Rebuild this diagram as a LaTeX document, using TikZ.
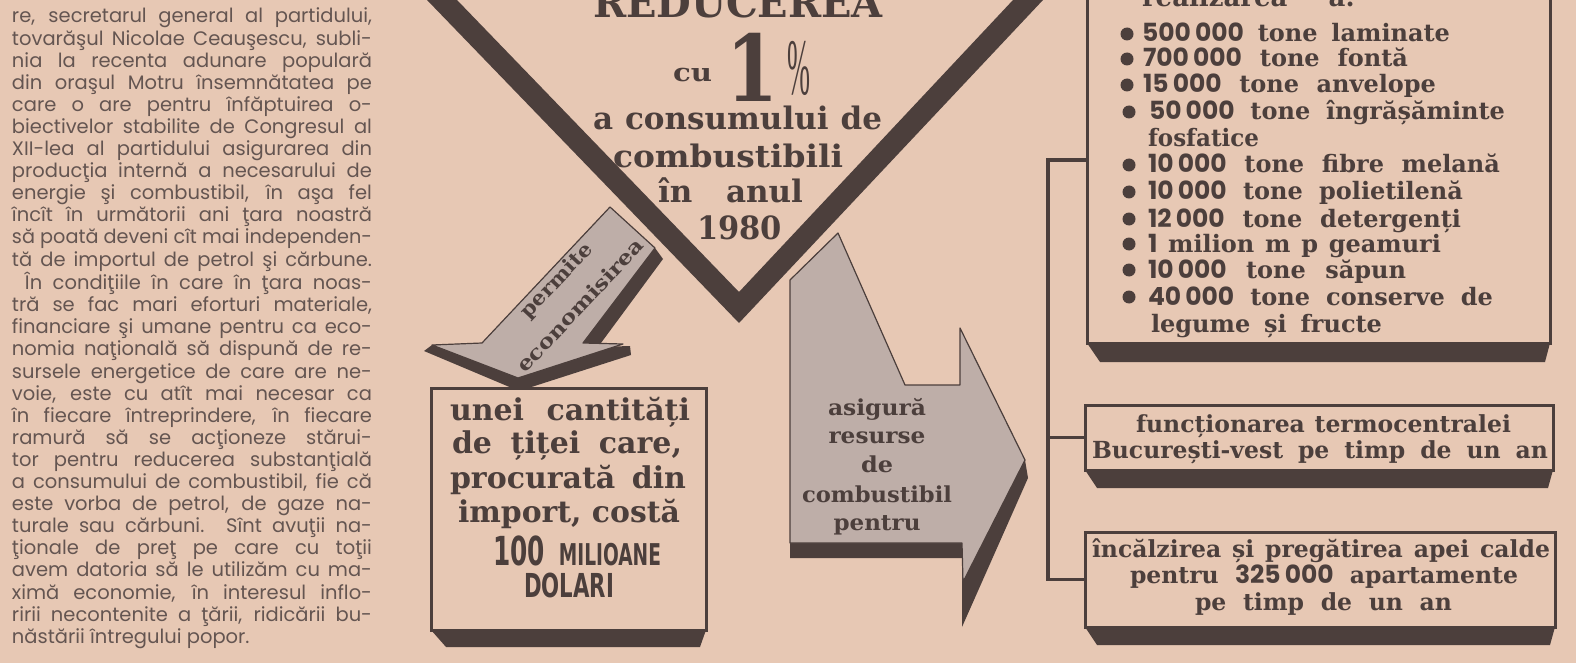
\documentclass[tikz,border=0pt]{standalone}
\usepackage{fontspec}
\usepackage{graphicx}
\setmainfont{DejaVu Serif}
\newfontfamily\colf{Poppins}
\newfontfamily\numf{Poppins}
\newfontfamily\condf{DejaVu Sans}[FakeStretch=0.62]
\newfontfamily\pctf{Liberation Serif}
\usetikzlibrary{calc}
\definecolor{paper}{RGB}{231,200,180}
\definecolor{ink}{RGB}{76,63,60}
\definecolor{colink}{RGB}{100,85,81}
\definecolor{screen}{RGB}{190,174,168}
\newsavebox\fitbox
\newdimen\fitdim
\newcommand\fsz[1]{\fontsize{#1}{#1}\selectfont}
\newcommand\fitx[2]{\sbox\fitbox{#2}\fitdim=\wd\fitbox\pgfmathsetmacro\fitf{#1/\fitdim}\scalebox{\fitf}[1]{\usebox\fitbox}}
\newcommand\fitj[2]{\sbox\fitbox{#2}\ifdim\wd\fitbox>#1pt\relax\fitdim=\wd\fitbox\pgfmathsetmacro\fitf{#1/\fitdim}\scalebox{\fitf}[1]{\usebox\fitbox}\else\makebox[#1pt][s]{#2}\fi}
\newcommand\jl[1]{\fitj{360}{#1}}
\newcommand\nm[1]{{\numf\fsz{25}#1}}
\begin{document}
\begin{tikzpicture}[x=1pt,y=-1pt,
  txt/.style={inner sep=0pt, outer sep=0pt, text=ink, anchor=base west},
  ctxt/.style={txt, anchor=base},
  boxst/.style={draw=ink, line width=3pt, fill=paper, inner sep=0pt, outer sep=0pt},
  conn/.style={draw=ink, line width=3.5pt, line join=miter},
  scr/.style={fill=screen, draw=ink, line width=1.2pt, line join=round}]
\useasboundingbox (0,0) rectangle (1576,663);
\clip (0,0) rectangle (1576,663);
\fill[paper] (0,0) rectangle (1576,663);

% left column text
\node[txt, text=colink] (col) at (12,23) {\parbox[t]{360pt}{\colf\fontsize{19.5}{22.1}\selectfont
\jl{re, secretarul general al partidului,}\\
\jl{tovarăşul Nicolae Ceauşescu, subli-}\\
\jl{nia la recenta adunare populară}\\
\jl{din oraşul Motru însemnătatea pe}\\
\jl{care o are pentru înfăptuirea o-}\\
\jl{biectivelor stabilite de Congresul al}\\
\jl{XII-lea al partidului asigurarea din}\\
\jl{producţia internă a necesarului de}\\
\jl{energie şi combustibil, în aşa fel}\\
\jl{încît în următorii ani ţara noastră}\\
\jl{să poată deveni cît mai independen-}\\
\jl{tă de importul de petrol şi cărbune.}\\
\jl{\hspace*{13pt}În condiţiile în care în ţara noas-}\\
\jl{tră se fac mari eforturi materiale,}\\
\jl{financiare şi umane pentru ca eco-}\\
\jl{nomia naţională să dispună de re-}\\
\jl{sursele energetice de care are ne-}\\
\jl{voie, este cu atît mai necesar ca}\\
\jl{în fiecare întreprindere, în fiecare}\\
\jl{ramură să se acţioneze stărui-}\\
\jl{tor pentru reducerea substanţială}\\
\jl{a consumului de combustibil, fie că}\\
\jl{este vorba de petrol, de gaze na-}\\
\jl{turale sau cărbuni. Sînt avuţii na-}\\
\jl{ţionale de preţ pe care cu toţii}\\
\jl{avem datoria să le utilizăm cu ma-}\\
\jl{ximă economie, în interesul inflo-}\\
\jl{ririi necontenite a ţării, ridicării bu-}\\
\mbox{năstării întregului popor.}}};

% the V mark
\fill[ink] (427,0) -- (739,323) -- (1043,0) -- (1013,0) -- (739,292) -- (457,0) -- cycle;

% left arrow
\fill[ink] (610,207) -- (655,248) -- (663,259) -- (598,347) -- (630,346) -- (631,355) -- (519,391) -- (424,351) -- (432,345) -- (482,343) -- cycle;
\path[scr] (610,207) -- (655,248) -- (583,343) -- (623,344) -- (518,378) -- (432,345) -- (482,343) -- cycle;

% right arrow
\fill[ink] (790,280) -- (838,233) -- (905,385) -- (960,385) -- (960,328) -- (1025,460) -- (1028,478) -- (962,627) -- (962,558) -- (790,558) -- cycle;
\path[scr] (790,280) -- (838,233) -- (905,385) -- (960,385) -- (960,328) -- (1025,460) -- (963,582) -- (962,543) -- (790,543) -- cycle;

% boxes
\node[boxst, minimum width=463pt, minimum height=366pt] (b1) at (1318.5,160) {};
\node[boxst, minimum width=468pt, minimum height=65pt] (b2) at (1319,437.5) {};
\node[boxst, minimum width=470pt, minimum height=95pt] (b3) at (1320,579.5) {};
\node[boxst, minimum width=275pt, minimum height=242pt] (b4) at (568.5,509) {};
\foreach \b/\l/\r/\h in {b1/13/-5/19, b2/12/-5/18, b3/12/-5/18, b4/15/-6/17}{
  \fill[ink] (\b.south west) -- (\b.south east) -- ($(\b.south east)+(\r,\h)$) -- ($(\b.south west)+(\l,\h)$) -- cycle;
}

% connectors
\coordinate (bus) at (1048,0);
\draw[conn] (b1.west) -- (b1.west -| bus) -- (b3.west -| bus) -- (b3.west);
\draw[conn] (b2.west) -- (b2.west -| bus);

% centre texts
\node[ctxt] (tred) at (738,18) {\fitx{290}{\bfseries\fsz{41}REDUCEREA}};
\node[txt] (tcu) at (673,82) {\fitx{39}{\bfseries\fsz{25}cu}};
\node[txt] (tone) at (726,102) {\fitx{52}{\bfseries\fsz{92}1}};
\node[txt] (tpct) at (787,95) {\fitx{23}{\pctf\fsz{80}\%}};
\node[txt] (tcons) at (593,130) {\fitj{289}{\bfseries\fsz{31}a consumului de}};
\node[txt] (tcomb) at (613,168) {\fitx{230}{\bfseries\fsz{31}combustibili}};
\node[txt] (tin) at (658,203) {\fitj{145}{\bfseries\fsz{31}în anul}};
\node[txt] (tyear) at (697,240) {\fitx{85}{\bfseries\fsz{32}1980}};

% left arrow texts
\node[txt, anchor=center, rotate=46.8] (tperm) at (557,281) {\fitx{95}{\bfseries\fsz{20}permite}};
\node[txt, anchor=center, rotate=46.8] (tecon) at (580,305) {\fitx{175}{\bfseries\fsz{20}economisirea}};

% right arrow texts
\node[ctxt] (ta1) at (877,415) {\fitx{98}{\bfseries\fsz{22}asigură}};
\node[ctxt] (ta2) at (877,443) {\fitx{97}{\bfseries\fsz{22}resurse}};
\node[ctxt] (ta3) at (877,472) {\fitx{32}{\bfseries\fsz{22}de}};
\node[ctxt] (ta4) at (877,502) {\fitx{150}{\bfseries\fsz{22}combustibil}};
\node[ctxt] (ta5) at (877,530) {\fitx{87}{\bfseries\fsz{22}pentru}};

% box 4 texts
\node[txt] (u1) at (450,420) {\fitj{240}{\bfseries\fsz{30}unei cantități}};
\node[txt] (u2) at (452,453) {\fitj{230}{\bfseries\fsz{30}de țiței care,}};
\node[txt] (u3) at (450,488) {\fitj{236}{\bfseries\fsz{30}procurată din}};
\node[txt] (u4) at (458,522) {\fitj{222}{\bfseries\fsz{30}import, costă}};
\node[txt] (u5) at (493,565) {\fitj{168}{\condf\bfseries{\fsz{40}100} {\fsz{30}MILIOANE}}};
\node[txt] (u6) at (524,597) {\fitx{90}{\condf\bfseries\fsz{33}DOLARI}};

% box 1 texts
\node[txt] (r0) at (1142,7) {\fitj{213}{\bfseries\fsz{26}realizarea a:}};
\foreach \x/\y in {1127/34,1127/59,1127/85,1129/112,1129/165,1129/192,1129/219,1129/244,1129/270,1129/297}{
  \fill[ink] (\x,\y) circle (6.5);
}
\node[txt] (r1) at (1142,42) {\fitj{308}{\bfseries\fsz{24}\nm{500\,000} tone laminate}};
\node[txt] (r2) at (1143,67) {\fitj{265}{\bfseries\fsz{24}\nm{700\,000} tone fontă}};
\node[txt] (r3) at (1143,93) {\fitj{293}{\bfseries\fsz{24}\nm{15\,000} tone anvelope}};
\node[txt] (r4) at (1149,120) {\fitj{356}{\bfseries\fsz{24}\nm{50\,000} tone îngrășăminte}};
\node[txt] (r5) at (1148,147) {\fitx{111}{\bfseries\fsz{24}fosfatice}};
\node[txt] (r6) at (1148,173) {\fitj{352}{\bfseries\fsz{24}\nm{10\,000} tone fibre melană}};
\node[txt] (r7) at (1148,200) {\fitj{315}{\bfseries\fsz{24}\nm{10\,000} tone polietilenă}};
\node[txt] (r8) at (1148,227) {\fitj{313}{\bfseries\fsz{24}\nm{12\,000} tone detergenți}};
\node[txt] (r9) at (1148,252) {\fitj{293}{\bfseries\fsz{24}\nm{1} milion m p geamuri}};
\node[txt] (r10) at (1148,278) {\fitj{258}{\bfseries\fsz{24}\nm{10\,000} tone săpun}};
\node[txt] (r11) at (1148,305) {\fitj{345}{\bfseries\fsz{24}\nm{40\,000} tone conserve de}};
\node[txt] (r12) at (1151,332) {\fitj{231}{\bfseries\fsz{24}legume și fructe}};

% box 2 texts
\node[txt] (s1) at (1136,432) {\fitj{375}{\bfseries\fsz{23.5}funcționarea termocentralei}};
\node[txt] (s2) at (1092,458) {\fitj{456}{\bfseries\fsz{23.5}București-vest pe timp de un an}};

% box 3 texts
\node[txt] (v1) at (1092,557) {\fitj{458}{\bfseries\fsz{23.5}încălzirea și pregătirea apei calde}};
\node[txt] (v2) at (1130,583) {\fitj{388}{\bfseries\fsz{23.5}pentru \nm{325\,000} apartamente}};
\node[txt] (v3) at (1195,610) {\fitj{257}{\bfseries\fsz{23.5}pe timp de un an}};
\end{tikzpicture}
\end{document}
